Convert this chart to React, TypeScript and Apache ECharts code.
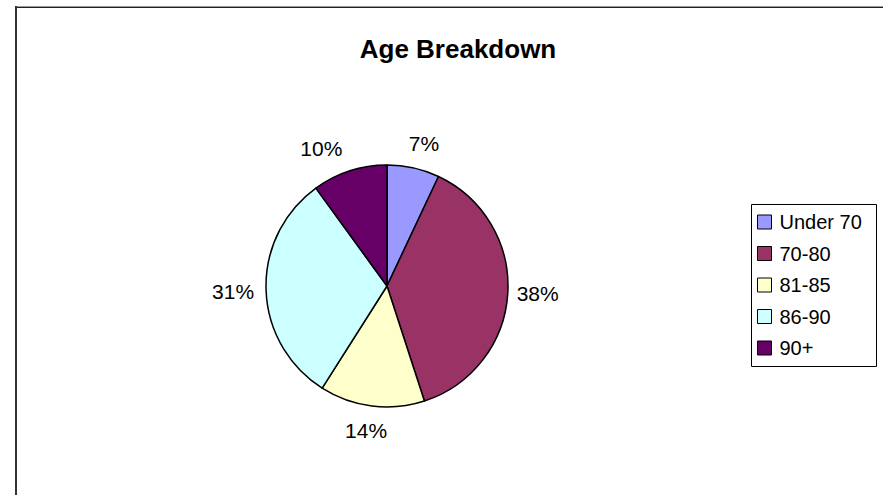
import React, { useEffect, useRef } from "react";
import * as echarts from "echarts";

const categories = ["Under 70", "70-80", "81-85", "86-90", "90+"];
const shares = [7, 38, 14, 31, 10];
const colors = ["#9999FF", "#993366", "#FFFFCC", "#CCFFFF", "#660066"];
const titleText = "Age Breakdown";

const FONT = "'Liberation Sans', Arial, Helvetica, sans-serif";

// small nudges so the outside labels sit where the reference puts them
const labelOffsets: Record<string, [number, number]> = {
  "Under 70": [4, 5],
  "70-80": [0, -2],
  "81-85": [-2, -5],
  "86-90": [-3, 1],
  "90+": [-19, 6],
};

export default function App() {
  const ref = useRef<HTMLDivElement>(null);
  useEffect(() => {
    if (!ref.current) return;
    const chart = echarts.init(ref.current, undefined, { renderer: "svg" });
    const data = categories.map((name, i) => ({
      name,
      value: shares[i],
      itemStyle: { color: colors[i] },
    }));
    const total = shares.reduce((a, b) => a + b, 0);
    chart.setOption({
      animation: false,
      backgroundColor: "#ffffff",
      title: {
        text: titleText,
        left: 453,
        top: 31,
        textAlign: "center",
        textStyle: { fontFamily: FONT, fontSize: 26, fontWeight: "bold", color: "#000" },
      },
      legend: {
        orient: "vertical",
        left: 757,
        top: 212,
        padding: 0,
        itemWidth: 14,
        itemHeight: 14,
        itemGap: 11.5,
        icon: "rect",
        selectedMode: false,
        data: categories,
        itemStyle: { borderColor: "#000", borderWidth: 1 },
        textStyle: { fontFamily: FONT, fontSize: 20, color: "#000", padding: [0, 0, 0, 3] },
      },
      graphic: [
        { type: "rect", shape: { x: 15, y: 6, width: 880, height: 1 }, style: { fill: "#9a9a9a" }, silent: true },
        { type: "rect", shape: { x: 15, y: 7, width: 880, height: 1 }, style: { fill: "#222" }, silent: true },
        { type: "rect", shape: { x: 15, y: 6, width: 2, height: 500 }, style: { fill: "#333" }, silent: true },
        {
          type: "rect",
          shape: { x: 751.5, y: 204.5, width: 125, height: 162 },
          style: { fill: "none", stroke: "#000", lineWidth: 1 },
          silent: true,
        },
      ],
      series: [
        {
          type: "pie",
          center: [387, 286],
          radius: [0, 121],
          startAngle: 90,
          clockwise: true,
          data,
          label: { show: false },
          labelLine: { show: false },
          itemStyle: { borderColor: "#000", borderWidth: 1.5 },
          emphasis: { disabled: true },
          silent: true,
        },
        {
          type: "pie",
          center: [387, 286],
          radius: [121, 175],
          startAngle: 90,
          clockwise: true,
          data: categories.map((name, i) => ({
            name,
            value: shares[i],
            label: { offset: labelOffsets[name] },
          })),
          itemStyle: { color: "rgba(0,0,0,0)", borderWidth: 0 },
          label: {
            show: true,
            position: "inside",
            formatter: (p: any) => Math.round((p.value / total) * 100) + "%",
            fontFamily: FONT,
            fontSize: 21,
            color: "#000",
          },
          labelLine: { show: false },
          emphasis: { disabled: true },
          silent: true,
        },
      ],
    });
    return () => chart.dispose();
  }, []);
  return (
    <div
      ref={ref}
      style={{ position: "fixed", left: 0, top: 0, width: 883, height: 495, background: "#fff" }}
    />
  );
}
